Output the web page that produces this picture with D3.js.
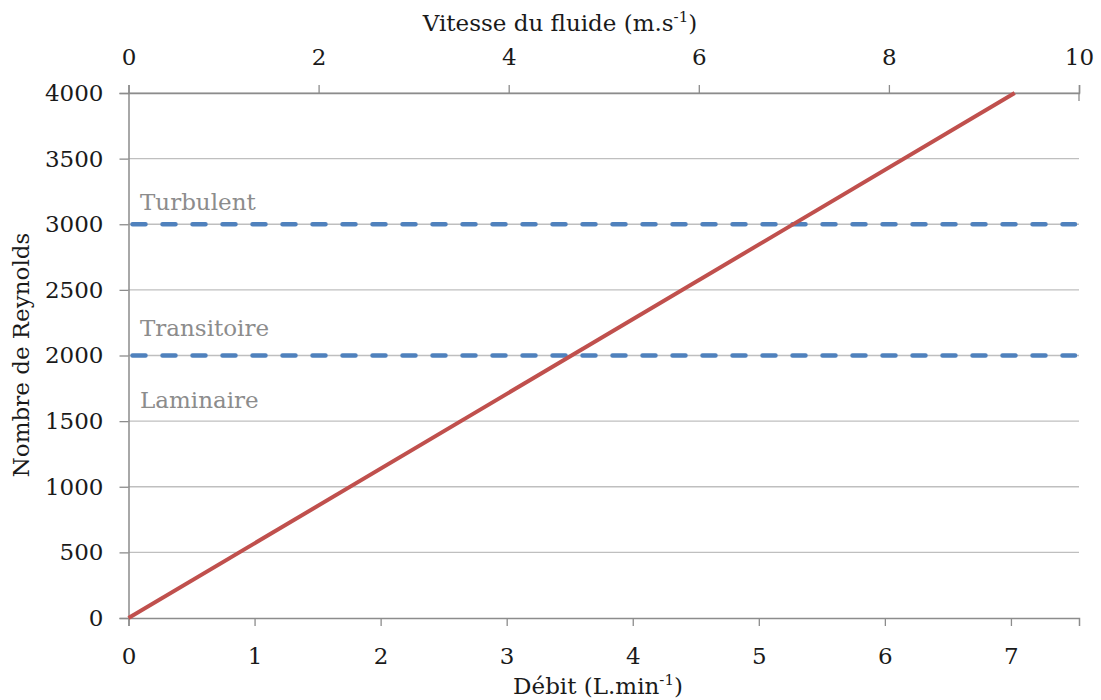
<!DOCTYPE html>
<html><head><meta charset="utf-8">
<script src="https://cdn.jsdelivr.net/npm/d3@7"></script>
<style>body{margin:0;background:#fff}svg{display:block}text{font-family:"DejaVu Serif",serif}</style>
</head><body><svg id="c" width="1101" height="700"></svg>
<script>
const debitTicks = [0,1,2,3,4,5,6,7];
const vitesseTicks = [0,2,4,6,8,10];
const reynoldsTicks = [0,500,1000,1500,2000,2500,3000,3500,4000];
const lineDebit = [0, 7.03];
const lineReynolds = [0, 4000];
const thresholds = [2000, 3000];
const regimeLabels = ["Laminaire","Transitoire","Turbulent"];
const regimeLabelY = [1600, 2150, 3110];

const svg = d3.select("#c");
const L=128.5, R=1079, T=93, B=618;
const FS = "23px";
const x = d3.scaleLinear().domain([0,7.54]).range([L,R]);
const xTop = d3.scaleLinear().domain([0,10]).range([L,R]);
const y = d3.scaleLinear().domain([0,4000]).range([B,T]);

// grid
svg.append("g").selectAll("line").data(reynoldsTicks.filter(d=>d>0)).join("line")
  .attr("x1",L).attr("x2",R).attr("y1",d=>y(d)).attr("y2",d=>y(d))
  .attr("stroke","#bfbfbf").attr("stroke-width",1.3);

function styleAxis(g){
  g.selectAll(".domain").attr("stroke","#8c8c8c").attr("stroke-width",1.5);
  g.selectAll(".tick line").attr("stroke","#8c8c8c").attr("stroke-width",1.3);
  g.selectAll("text").attr("fill","#1a1a1a").style("font-size",FS);
}
svg.append("g").attr("transform",`translate(0,${B})`)
  .call(d3.axisBottom(x).tickValues(debitTicks).tickFormat(d3.format("d")).tickSizeOuter(0).tickSize(8).tickPadding(22))
  .call(styleAxis);
svg.append("g").attr("transform",`translate(0,${T})`)
  .call(d3.axisTop(xTop).tickValues(vitesseTicks).tickFormat(d3.format("d")).tickSizeOuter(8).tickSize(8).tickPadding(20))
  .call(styleAxis);
svg.append("g").attr("transform",`translate(${L},0)`)
  .call(d3.axisLeft(y).tickValues(reynoldsTicks).tickFormat(d3.format("d")).tickSizeOuter(0).tickSize(9).tickPadding(16))
  .call(styleAxis);
svg.append("line").attr("x1",R).attr("x2",R).attr("y1",T).attr("y2",T+8).attr("stroke","#8c8c8c").attr("stroke-width",1.3);

// thresholds
svg.append("g").selectAll("line").data(thresholds).join("line")
  .attr("x1",L+4).attr("x2",R-4).attr("y1",d=>y(d)).attr("y2",d=>y(d))
  .attr("stroke","#4f81bd").attr("stroke-width",4.5).attr("stroke-dasharray","13,17").attr("stroke-linecap","round");

// regime labels
svg.append("g").selectAll("text").data(regimeLabels).join("text")
  .attr("x",140).attr("y",(d,i)=>y(regimeLabelY[i])).attr("fill","#8c8c8c").style("font-size",FS).text(d=>d);

// line
const pts = lineDebit.map((d,i)=>[d,lineReynolds[i]]);
svg.append("path").datum(pts).attr("d",d3.line().x(d=>x(d[0])).y(d=>y(d[1])))
  .attr("fill","none").attr("stroke","#c0504d").attr("stroke-width",4);

// titles
const t1 = svg.append("text").attr("x",560).attr("y",31).attr("text-anchor","middle").style("font-size",FS).attr("fill","#1a1a1a");
t1.append("tspan").text("Vitesse du fluide (m.s");
t1.append("tspan").attr("dy",-9).style("font-size","15px").text("-1");
t1.append("tspan").attr("dy",9).text(")");
const t2 = svg.append("text").attr("x",598).attr("y",694).attr("text-anchor","middle").style("font-size",FS).attr("fill","#1a1a1a");
t2.append("tspan").text("Débit (L.min");
t2.append("tspan").attr("dy",-9).style("font-size","15px").text("-1");
t2.append("tspan").attr("dy",9).text(")");
svg.append("text").attr("transform","translate(29,355) rotate(-90)").attr("text-anchor","middle")
  .style("font-size",FS).attr("fill","#1a1a1a").text("Nombre de Reynolds");
</script></body></html>
